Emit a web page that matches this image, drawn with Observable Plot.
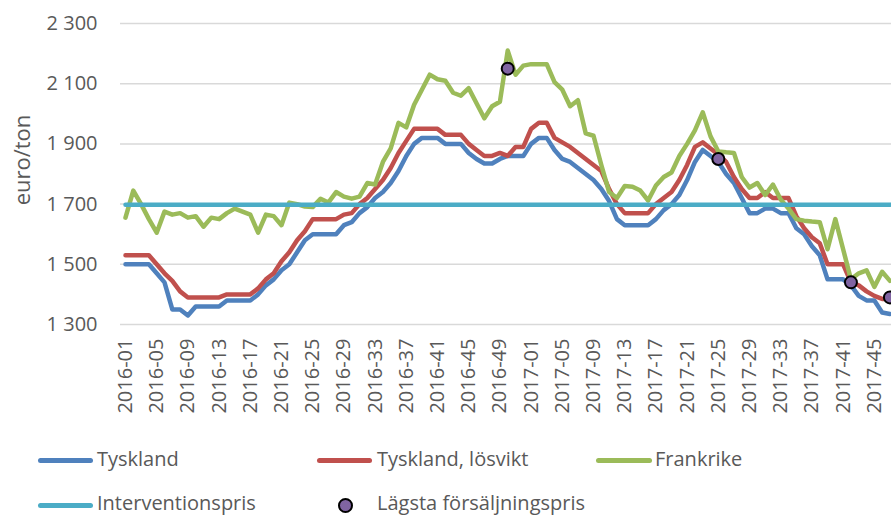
<!DOCTYPE html>
<html><head><meta charset="utf-8">
<script src="https://cdn.jsdelivr.net/npm/d3@7"></script>
<script src="https://cdn.jsdelivr.net/npm/@observablehq/plot@0.6"></script>
<style>
body{margin:0;background:#fff;}
#wrap{position:relative;width:891px;height:515px;overflow:hidden;font-family:"Open Sans",sans-serif;color:#595959;}
.sw{position:absolute;height:5px;border-radius:3px;}
.tx{position:absolute;font-size:20px;line-height:28px;white-space:nowrap;color:#595959;}
.dot{position:absolute;width:11px;height:11px;border-radius:50%;background:#8064A2;border:2px solid #000;}
</style></head><body><div id="wrap"></div>
<script>
// Week categories: 2016-01 … 2016-52, 2017-01 … 2017-47
const weeks2016 = d3.range(1, 53).map(w => "2016-" + String(w).padStart(2, "0"));
const weeks2017 = d3.range(1, 48).map(w => "2017-" + String(w).padStart(2, "0"));
const weeks = [...weeks2016, ...weeks2017];

const tickLabels = ["2016-01","2016-05","2016-09","2016-13","2016-17","2016-21","2016-25","2016-29","2016-33","2016-37","2016-41","2016-45","2016-49","2017-01","2017-05","2017-09","2017-13","2017-17","2017-21","2017-25","2017-29","2017-33","2017-37","2017-41","2017-45"];
const yTicks = [1300, 1500, 1700, 1900, 2100, 2300];

const tyskland = [1500,1500,1500,1500,1470,1440,1350,1350,1330,1360,1360,1360,1360,1380,1380,1380,1380,1400,1430,1450,1480,1500,1540,1580,1600,1600,1600,1600,1630,1640,1670,1690,1720,1740,1770,1810,1860,1900,1920,1920,1920,1900,1900,1900,1870,1850,1835,1835,1850,1860,1860,1860,1900,1920,1920,1880,1850,1840,1820,1800,1780,1750,1710,1650,1630,1630,1630,1630,1650,1680,1700,1730,1780,1840,1880,1860,1840,1800,1770,1720,1670,1670,1685,1685,1670,1670,1620,1600,1560,1530,1450,1450,1450,1430,1395,1380,1380,1340,1335];
const tysklandLosvikt = [1530,1530,1530,1530,1500,1470,1445,1410,1390,1390,1390,1390,1390,1400,1400,1400,1400,1420,1450,1470,1510,1540,1580,1610,1650,1650,1650,1650,1665,1670,1700,1720,1750,1780,1820,1870,1910,1950,1950,1950,1950,1930,1930,1930,1900,1880,1860,1860,1870,1860,1890,1890,1950,1970,1970,1920,1905,1890,1870,1850,1830,1810,1750,1700,1670,1670,1670,1670,1700,1720,1740,1780,1830,1890,1905,1885,1865,1840,1790,1750,1720,1720,1740,1720,1720,1720,1660,1620,1590,1570,1500,1500,1500,1440,1430,1410,1395,1385,1385];
const frankrike = [1655,1745,1700,1650,1605,1675,1665,1670,1655,1660,1625,1655,1650,1670,1685,1675,1665,1605,1665,1660,1630,1705,1700,1692,1690,1718,1705,1740,1725,1718,1725,1770,1765,1840,1885,1970,1955,2030,2080,2130,2115,2110,2070,2060,2085,2035,1985,2025,2040,2210,2130,2160,2165,2165,2165,2105,2080,2025,2045,1935,1927,1830,1740,1720,1760,1758,1745,1712,1762,1790,1805,1860,1900,1945,2005,1925,1875,1872,1870,1790,1755,1770,1730,1765,1715,1685,1650,1645,1642,1640,1550,1650,1550,1450,1470,1480,1425,1475,1445];
const interventionspris = 1698;
const lowestWeeks = ["2016-50","2017-25","2017-42","2017-47"];
const lowestValues = [2150, 1850, 1440, 1390];

const idx = (arr) => arr.map((v, i) => ({i, v}));
const lowest = lowestWeeks.map((w, k) => ({i: weeks.indexOf(w), v: lowestValues[k]}));
const interv = weeks.map((w, i) => ({i, v: interventionspris}));
const tickIdx = tickLabels.map(t => weeks.indexOf(t));

const loc = d3.formatLocale({decimal: ",", thousands: "\u00a0", grouping: [3], currency: ["", ""]});
const fmt = loc.format(",d");

const lineOpts = {x: "i", y: "v", strokeWidth: 4.5, strokeLinejoin: "round", strokeLinecap: "round", clip: true};

const chart = Plot.plot({
  width: 891, height: 430,
  marginLeft: 120, marginRight: 0, marginTop: 23, marginBottom: 106,
  style: {fontFamily: "'Open Sans', sans-serif", fontSize: "20px", color: "#595959", background: "#fff"},
  x: {domain: [-0.64, 98.2], type: "linear"},
  y: {domain: [1300, 2300]},
  marks: [
    Plot.gridY(yTicks, {stroke: "#d9d9d9", strokeOpacity: 1, strokeWidth: 1.5}),
    Plot.axisY(yTicks, {tickSize: 0, tickPadding: 23, tickFormat: fmt, fontSize: 20, fill: "#595959", label: null}),
    Plot.axisX(tickIdx, {tickSize: 0, tickPadding: 14, tickRotate: -90, tickFormat: i => weeks[i], fontSize: 20, fill: "#595959", label: null}),
    Plot.text(["euro/ton"], {text: d => d, frameAnchor: "left", textAnchor: "middle", dx: -98, dy: -14, rotate: -90, fontSize: 22, fill: "#595959"}),
    Plot.line(idx(tyskland), {...lineOpts, stroke: "#4F81BD"}),
    Plot.line(idx(tysklandLosvikt), {...lineOpts, stroke: "#C0504D"}),
    Plot.line(idx(frankrike), {...lineOpts, stroke: "#9BBB59"}),
    Plot.line(interv, {...lineOpts, stroke: "#4BACC6"}),
    Plot.dot(lowest, {x: "i", y: "v", r: 6, fill: "#8064A2", stroke: "#000", strokeWidth: 2})
  ]
});
const wrap = document.getElementById("wrap");
wrap.appendChild(chart);

const legend = [
  {kind: "line", label: "Tyskland", color: "#4F81BD", x0: 38, x1: 93, tx: 97, row: 0},
  {kind: "line", label: "Tyskland, lösvikt", color: "#C0504D", x0: 317, x1: 372, tx: 377, row: 0},
  {kind: "line", label: "Frankrike", color: "#9BBB59", x0: 596, x1: 652, tx: 655, row: 0},
  {kind: "line", label: "Interventionspris", color: "#4BACC6", x0: 38, x1: 93, tx: 97, row: 1},
  {kind: "dot", label: "Lägsta försäljningspris", color: "#8064A2", x0: 345, tx: 377, row: 1}
];
const rowY = [460, 505];
const rowTop = [445, 489];
for (const it of legend) {
  const s = document.createElement("div");
  if (it.kind === "line") {
    s.className = "sw";
    s.style.left = it.x0 + "px";
    s.style.width = (it.x1 - it.x0) + "px";
    s.style.top = (rowY[it.row] - 2.5) + "px";
    s.style.background = it.color;
  } else {
    s.className = "dot";
    s.style.left = (it.x0 - 7.5) + "px";
    s.style.top = (rowY[it.row] - 7.5) + "px";
  }
  wrap.appendChild(s);
  const t = document.createElement("div");
  t.className = "tx";
  t.textContent = it.label;
  t.style.left = it.tx + "px";
  t.style.top = rowTop[it.row] + "px";
  wrap.appendChild(t);
}
</script></body></html>
